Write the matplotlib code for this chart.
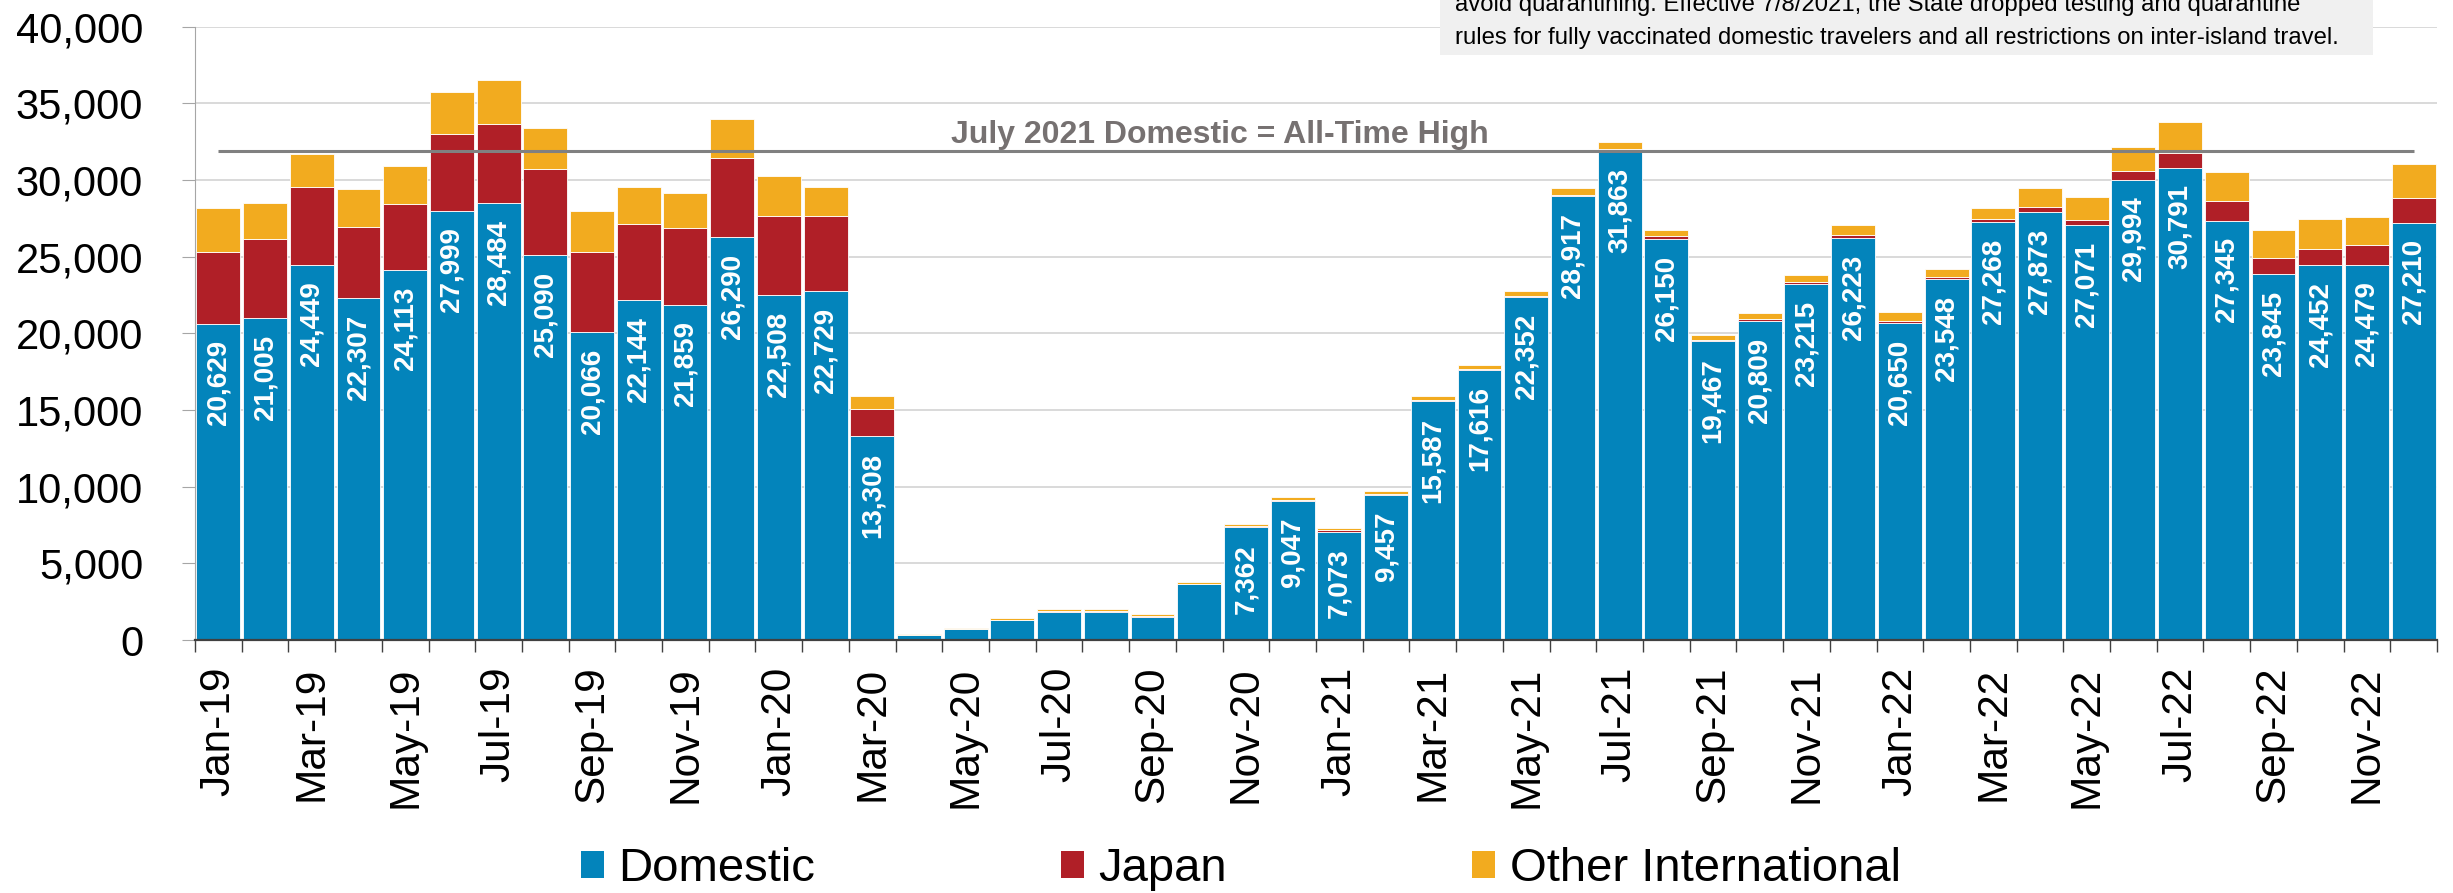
"""Monthly arrivals by market, Jan 2019 - Dec 2022, stacked bars."""

import matplotlib.pyplot as plt
import numpy as np
from matplotlib.patches import Patch, Rectangle
from matplotlib.ticker import FuncFormatter

plt.rcParams["font.family"] = ["Liberation Sans", "DejaVu Sans"]

month_names = ["Jan", "Feb", "Mar", "Apr", "May", "Jun",
               "Jul", "Aug", "Sep", "Oct", "Nov", "Dec"]
years = ["19", "20", "21", "22"]
months = [f"{m}-{y}" for y in years for m in month_names]

domestic = [20629, 21005, 24449, 22307, 24113, 27999, 28484, 25090, 20066, 22144, 21859, 26290,
            22508, 22729, 13308, 300, 720, 1300, 1850, 1850, 1520, 3630, 7362, 9047,
            7073, 9457, 15587, 17616, 22352, 28917, 31863, 26150, 19467, 20809, 23215, 26223,
            20650, 23548, 27268, 27873, 27071, 29994, 30791, 27345, 23845, 24452, 24479, 27210]
japan = [4690, 5120, 5060, 4610, 4320, 5020, 5180, 5610, 5250, 4950, 5030, 5110,
         5110, 4940, 1780, 20, 10, 20, 20, 20, 20, 20, 40, 100,
         80, 70, 60, 60, 90, 110, 120, 160, 110, 140, 100, 190,
         150, 100, 160, 360, 310, 560, 960, 1250, 1070, 1060, 1280, 1620]
other_intl = [2850, 2360, 2150, 2470, 2470, 2680, 2880, 2670, 2670, 2420, 2240, 2580,
              2610, 1890, 840, 50, 30, 110, 170, 150, 130, 110, 140, 180,
              180, 180, 250, 280, 330, 420, 500, 400, 320, 350, 500, 620,
              600, 550, 770, 1220, 1470, 1620, 2040, 1920, 1800, 1920, 1850, 2190]

record_label = "July 2021 Domestic = All-Time High"
record_value = 31863
note_lines = [
    "avoid quarantining. Effective 7/8/2021, the State dropped testing and quarantine",
    "rules for fully vaccinated domestic travelers and all restrictions on inter-island travel.",
]

BLUE = "#0384BB"
RED = "#B01F27"
ORANGE = "#F2AB1F"
GREY_LINE = "#808080"
GREY_TEXT = "#767171"

W, H = 2453, 893
fig = plt.figure(figsize=(W / 100, H / 100), dpi=100)
ax = fig.add_axes([195 / W, 1 - 640 / H, 2242 / W, 613.5 / H])

x = np.arange(len(months))
dom = np.array(domestic)
jpn = np.array(japan)
oth = np.array(other_intl)

bar_kw = dict(width=0.94, edgecolor="white", linewidth=0.6, zorder=2)
ax.bar(x, dom, color=BLUE, **bar_kw)
ax.bar(x, jpn, bottom=dom, color=RED, **bar_kw)
ax.bar(x, oth, bottom=dom + jpn, color=ORANGE, **bar_kw)

# domestic counts written inside the blue segment
for i, v in enumerate(domestic):
    if v >= 7000:
        ax.annotate(f"{v:,}", (i, v), xytext=(0, -12), textcoords="offset points",
                    rotation=90, ha="center", va="top", color="white",
                    fontsize=20, fontweight="bold", zorder=4)

ax.hlines(record_value, 0, len(months) - 1, color=GREY_LINE, lw=2.2, zorder=3)
ax.annotate(record_label, (21.45, record_value), xytext=(0, 6), textcoords="offset points",
            ha="center", va="baseline", color=GREY_TEXT, fontsize=23, fontweight="bold")

ax.set_xlim(-0.5, len(months) - 0.5)
ax.set_ylim(0, 40000)
ax.set_yticks(np.arange(0, 40001, 5000))
ax.yaxis.set_major_formatter(FuncFormatter(lambda v, _: f"{v:,.0f}"))
ax.tick_params(axis="y", labelsize=30, length=9.4, color="#a6a6a6", pad=28)
ax.yaxis.grid(True, color="#d9d9d9", lw=1.4)
ax.set_axisbelow(True)

ax.set_xticks(x[::2])
ax.set_xticklabels(months[::2], rotation=90, fontsize=30.5)
ax.tick_params(axis="x", which="major", length=0, pad=19)
ax.set_xticks(np.arange(-0.5, len(months), 1), minor=True)
ax.tick_params(axis="x", which="minor", length=8.6, color="#404040", width=1)

for side in ("top", "right"):
    ax.spines[side].set_visible(False)
ax.spines["left"].set_color("#a6a6a6")
ax.spines["bottom"].set_color("#404040")
ax.spines["bottom"].set_linewidth(1.6)

# note box running off the top edge
fig.patches.append(Rectangle((1440 / W, 1 - 55 / H), 933 / W, 60 / H,
                             transform=fig.transFigure, facecolor="#f0f0f0",
                             edgecolor="none", zorder=5))
fig.text(1455 / W, 1 - 11 / H, note_lines[0], fontsize=17.2, va="baseline", zorder=6)
fig.text(1455 / W, 1 - 44 / H, note_lines[1], fontsize=17.2, va="baseline", zorder=6)

handles = [Patch(facecolor=c, edgecolor="none") for c in (BLUE, RED, ORANGE)]
fig.legend(handles, ["Domestic", "Japan", "Other International"], ncol=3,
           loc="center left", bbox_to_anchor=(581 / W, 1 - 869 / H),
           frameon=False, fontsize=34, borderpad=0, borderaxespad=0,
           handlelength=0.49, handleheight=0.5, handletextpad=0.3,
           columnspacing=5.2)

fig.savefig("out.png", dpi=100)
